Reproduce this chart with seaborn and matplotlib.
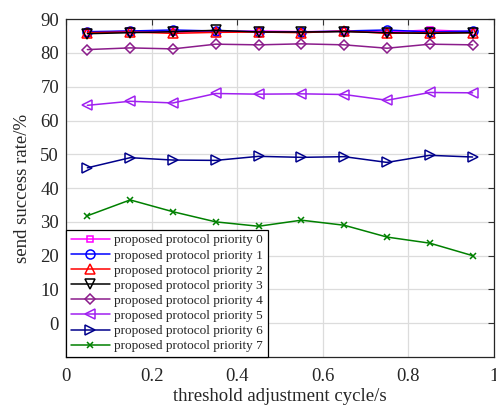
import numpy as np
import pandas as pd
import matplotlib
matplotlib.use("Agg")
import matplotlib.pyplot as plt
import seaborn as sns

# threshold adjustment cycle (s)
cycle = [0.05, 0.15, 0.25, 0.35, 0.45, 0.55, 0.65, 0.75, 0.85, 0.95]

# send success rate (%) for each priority
p0 = [86.0, 86.5, 86.2, 86.3, 86.5, 86.3, 86.4, 86.2, 86.8, 86.3]
p1 = [86.3, 86.5, 86.8, 86.5, 86.3, 86.2, 86.5, 86.8, 86.2, 86.5]
p2 = [86.0, 86.2, 85.8, 86.1, 86.2, 86.0, 86.5, 85.8, 86.0, 86.0]
p3 = [85.7, 86.0, 86.3, 86.7, 86.2, 86.2, 86.3, 86.0, 85.8, 86.0]
p4 = [81.0, 81.5, 81.2, 82.6, 82.4, 82.7, 82.4, 81.4, 82.6, 82.4]
p5 = [64.5, 65.7, 65.2, 68.0, 67.8, 67.9, 67.7, 66.0, 68.3, 68.2]
p6 = [46.0, 49.0, 48.3, 48.2, 49.4, 49.1, 49.3, 47.6, 49.7, 49.2]
p7 = [31.8, 36.5, 33.0, 30.0, 28.7, 30.5, 29.0, 25.5, 23.7, 20.0]

series = [p0, p1, p2, p3, p4, p5, p6, p7]
labels = [f"proposed protocol priority {i}" for i in range(8)]
colors = ["#FF00FF", "#0000FF", "#FF0000", "#000000",
          "#8B1C8B", "#A020F0", "#00008B", "#008000"]
markers = ["s", "o", "^", "v", "D", "<", ">", "x"]
sizes = [5, 6.5, 7, 7.5, 5.5, 7.5, 7.5, 4.5]

sns.set_style("white")
plt.rcParams["font.family"] = ["Liberation Serif", "DejaVu Serif"]

fig = plt.figure(figsize=(4.96, 4.08), dpi=100)
ax = fig.add_axes([0.133, 0.125, 0.863, 0.828])

for vals, lab, c, m, s in zip(series, labels, colors, markers, sizes):
    df = pd.DataFrame({"cycle": cycle, "rate": vals})
    sns.lineplot(data=df, x="cycle", y="rate", ax=ax, color=c, marker=m,
                 markersize=s, markerfacecolor="none", markeredgecolor=c,
                 markeredgewidth=1.1, linewidth=1.1, label=lab)

ax.set_xlim(0, 1)
ax.set_ylim(-10, 90)
ax.set_xticks([0, 0.2, 0.4, 0.6, 0.8, 1])
ax.set_xticklabels(["0", "0.2", "0.4", "0.6", "0.8", "1"])
ax.set_yticks(range(0, 91, 10))
ax.grid(True, color="#DCDCDC", linewidth=0.9)
ax.set_axisbelow(True)
ax.tick_params(direction="in", top=True, right=True, labelsize=13.5,
               length=4, color="#333333", pad=5)
ax.tick_params(axis="x", pad=8)
for sp in ax.spines.values():
    sp.set_color("#262626")
    sp.set_linewidth(0.9)

ax.set_xlabel("threshold adjustment cycle/s", fontsize=13.5, labelpad=2)
ax.set_ylabel("send success rate/%", fontsize=13.5, labelpad=7)

leg = ax.legend(loc="lower left", borderaxespad=0, fontsize=9.5,
                handlelength=3.0, labelspacing=0.22, handletextpad=0.3,
                borderpad=0.35, fancybox=False, framealpha=1)
leg.get_frame().set_edgecolor("black")
leg.get_frame().set_linewidth(0.9)

fig.savefig("out.png", dpi=100)
